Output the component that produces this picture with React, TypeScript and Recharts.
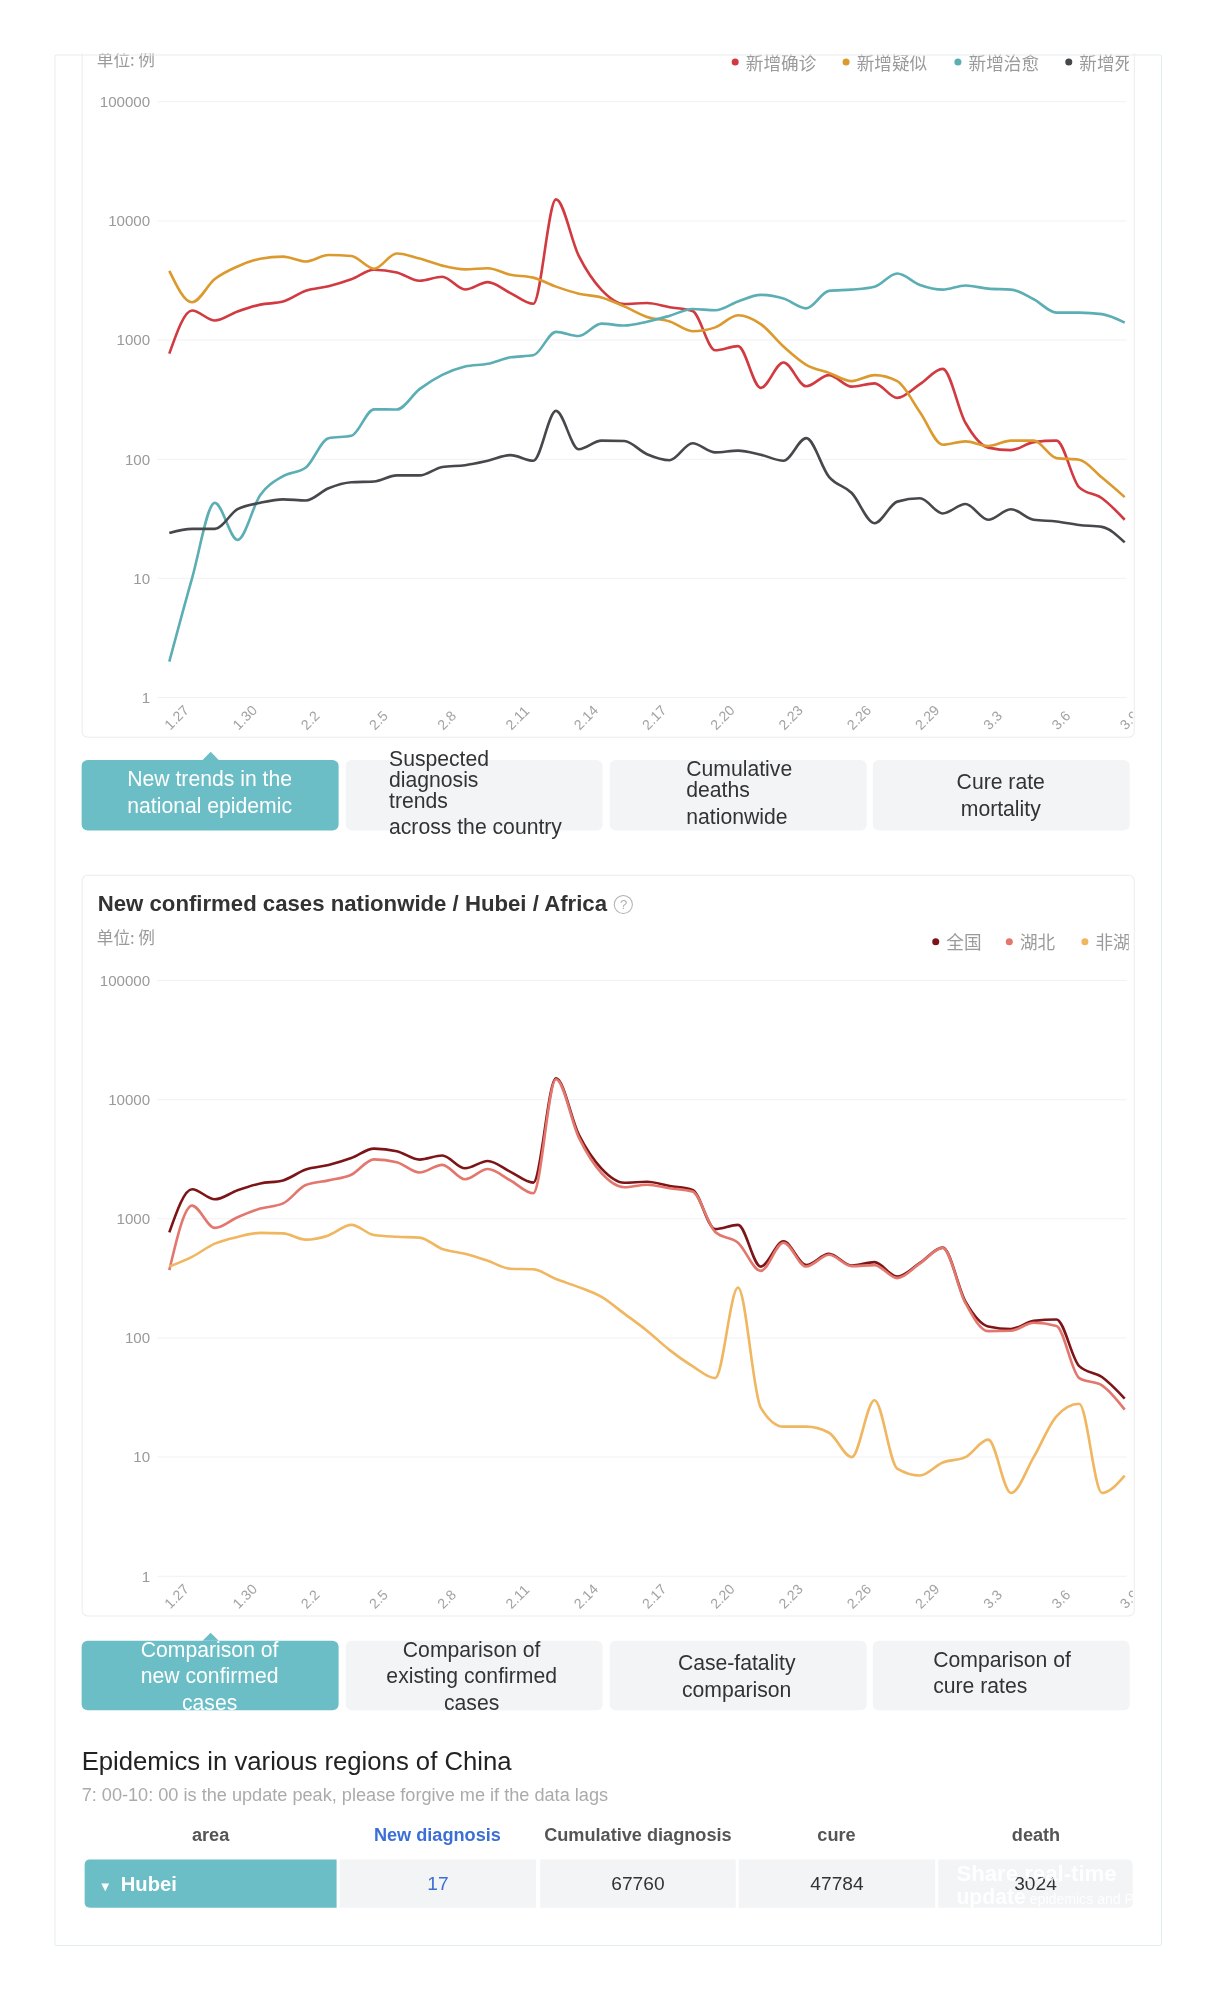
import React from 'react';
import { LineChart, Line, XAxis, YAxis, CartesianGrid } from 'recharts';

// categories: report dates
const dates = [
  '1.27', '1.28', '1.29', '1.30', '1.31',
  '2.1', '2.2', '2.3', '2.4', '2.5', '2.6', '2.7', '2.8', '2.9', '2.10',
  '2.11', '2.12', '2.13', '2.14', '2.15', '2.16', '2.17', '2.18', '2.19', '2.20',
  '2.21', '2.22', '2.23', '2.24', '2.25', '2.26', '2.27', '2.28', '2.29',
  '3.1', '3.2', '3.3', '3.4', '3.5', '3.6', '3.7', '3.8', '3.9',
];

// chart 1: national trends (cases per day)
const newConfirmed = [
  769, 1771, 1459, 1737, 1982, 2102, 2590, 2829, 3235, 3887, 3694, 3143, 3399, 2656, 3062,
  2478, 2015, 15152, 5090, 2641, 2009, 2048, 1886, 1749, 820, 889, 397, 648, 409, 508,
  406, 433, 327, 427, 573, 202, 125, 119, 139, 143, 58, 47, 31,
];
const newSuspected = [
  3806, 2077, 3248, 4148, 4812, 5019, 4562, 5173, 5072, 3971, 5328, 4833, 4214, 3916, 4008,
  3536, 3342, 2807, 2450, 2277, 1918, 1563, 1432, 1185, 1277, 1614, 1361, 882, 620, 530,
  452, 508, 452, 248, 132, 141, 129, 143, 143, 102, 99, 70, 48,
];
const newCured = [
  2, 10, 43, 21, 50, 72, 85, 150, 157, 262, 261, 387, 510, 600, 632,
  716, 744, 1171, 1081, 1373, 1323, 1425, 1600, 1824, 1779, 2109, 2393, 2231, 1846, 2587,
  2650, 2800, 3622, 2900, 2650, 2868, 2700, 2652, 2200, 1700, 1700, 1650, 1400,
];
const newDeaths = [
  24, 26, 26, 38, 43, 46, 45, 57, 64, 65, 73, 73, 86, 89, 97,
  108, 97, 254, 121, 143, 142, 110, 98, 136, 114, 118, 109, 97, 150, 71,
  52, 29, 44, 47, 35, 42, 31, 38, 31, 30, 28, 27, 20,
];

// chart 2: national / Hubei / outside Hubei new confirmed
const hubeiConfirmed = [
  371, 1291, 840, 1032, 1220, 1347, 1921, 2103, 2345, 3156, 2987, 2447, 2841, 2147, 2618,
  2097, 1638, 14840, 4823, 2420, 1843, 1933, 1807, 1693, 775, 631, 366, 630, 398, 499,
  401, 409, 318, 423, 570, 196, 114, 115, 134, 126, 46, 40, 25,
];
const nonHubeiConfirmed = [
  398, 480, 619, 705, 762, 755, 669, 726, 890, 731, 707, 696, 558, 509, 444,
  381, 377, 312, 267, 221, 160, 115, 79, 58, 46, 265, 26, 18, 18, 16,
  10, 30, 8, 7, 9, 10, 14, 5, 10, 22, 28, 5, 7,
];

const yTicks = [1, 10, 100, 1000, 10000, 100000];

const trendSeries = [
  { key: 'confirmed', name: '新增确诊', color: '#d13a40' },
  { key: 'suspected', name: '新增疑似', color: '#dc9a2e' },
  { key: 'cured', name: '新增治愈', color: '#5aaeb4' },
  { key: 'deaths', name: '新增死亡', color: '#47484c' },
];
const compareSeries = [
  { key: 'national', name: '全国', color: '#7d1518' },
  { key: 'hubei', name: '湖北', color: '#e3766d' },
  { key: 'nonHubei', name: '非湖北', color: '#f0b660' },
];

const trendData = dates.map((date, i) => ({
  date,
  confirmed: newConfirmed[i],
  suspected: newSuspected[i],
  cured: newCured[i],
  deaths: newDeaths[i],
}));
const compareData = dates.map((date, i) => ({
  date,
  national: newConfirmed[i],
  hubei: hubeiConfirmed[i],
  nonHubei: nonHubeiConfirmed[i],
}));

const SANS = '"Liberation Sans", Arial, "Noto Sans CJK SC", sans-serif';
const CJK = '"Noto Sans CJK SC", "Liberation Sans", sans-serif';
const TEAL = '#6bbec5';

function DateTick(props: any) {
  const { x, y, payload } = props;
  const tx = x + 1;
  const ty = y + 33;
  return (
    <text x={tx} y={ty} transform={`rotate(-45 ${tx} ${ty})`} textAnchor="start" fill="#a3a3a3" fontSize={14} fontFamily={SANS}>
      {payload.value}
    </text>
  );
}

function LogChart({ data, series, top }: any) {
  return (
    <div style={{ position: 'absolute', left: 81, top, width: 1043, height: 651, overflow: 'hidden' }}>
      <LineChart width={1045} height={680} data={data} margin={{ top: 21, right: 8, left: 0, bottom: 0 }}>
        <CartesianGrid vertical={false} stroke="#f1f1f1" />
        <XAxis
          dataKey="date"
          interval={2}
          axisLine={false}
          tickLine={false}
          tickSize={0}
          tickMargin={0}
          height={68}
          padding={{ left: 12, right: 2 }}
          tick={<DateTick />}
        />
        <YAxis
          scale="log"
          type="number"
          domain={[1, 100000]}
          ticks={yTicks}
          allowDataOverflow
          axisLine={false}
          tickLine={false}
          tickSize={0}
          tickMargin={7}
          width={75}
          tick={{ fill: '#9a9a9a', fontSize: 15, fontFamily: SANS }}
        />
        {series.map((s: any) => (
          <Line
            key={s.key}
            type="monotone"
            dataKey={s.key}
            name={s.name}
            stroke={s.color}
            strokeWidth={2.6}
            dot={false}
            activeDot={false}
            isAnimationActive={false}
          />
        ))}
      </LineChart>
    </div>
  );
}

function LegendRow({ series, xs, y }: any) {
  return (
    <div style={{ position: 'absolute', left: 600, top: y - 13, width: 520, height: 26, overflow: 'hidden' }}>
      {series.map((s: any, i: number) => (
        <div key={s.key} style={{ position: 'absolute', left: xs[i] - 600 - 4, top: 0, height: 26, display: 'flex', alignItems: 'center', whiteSpace: 'nowrap' }}>
          <span style={{ width: 7, height: 7, borderRadius: 4, background: s.color, display: 'inline-block', marginRight: 7 }} />
          <span style={{ fontFamily: CJK, fontSize: 17.5, color: '#9a9a9a' }}>{s.name}</span>
        </div>
      ))}
    </div>
  );
}

function TabText({ lines, color, size = 21 }: any) {
  return (
    <>
      {lines.map((l: any, i: number) => (
        <div
          key={i}
          style={{
            position: 'absolute',
            top: l.y - 13,
            height: 26,
            lineHeight: '26px',
            left: l.align === 'left' ? l.x : l.x - 150,
            width: 300,
            textAlign: l.align === 'left' ? 'left' : 'center',
            fontFamily: SANS,
            fontSize: size,
            color,
            whiteSpace: 'nowrap',
          }}
        >
          {l.t}
        </div>
      ))}
    </>
  );
}

function Tabs({ top, height, texts }: any) {
  const lefts = [81, 343, 605, 866];
  return (
    <>
      {lefts.map((l, i) => (
        <div
          key={i}
          style={{
            position: 'absolute',
            left: l,
            top,
            width: 255,
            height,
            borderRadius: 6,
            background: i === 0 ? TEAL : '#f3f4f6',
          }}
        />
      ))}
      <div
        style={{
          position: 'absolute',
          left: 201,
          top: top - 8,
          width: 0,
          height: 0,
          borderLeft: '8px solid transparent',
          borderRight: '8px solid transparent',
          borderBottom: `8px solid ${TEAL}`,
        }}
      />
      {texts.map((t: any, i: number) => (
        <TabText key={i} lines={t} color={i === 0 ? '#ffffff' : '#333333'} />
      ))}
    </>
  );
}

const tabs1 = [
  [
    { t: 'New trends in the', x: 208, y: 773 },
    { t: 'national epidemic', x: 208, y: 800 },
  ],
  [
    { t: 'Suspected', x: 386, y: 753, align: 'left' },
    { t: 'diagnosis', x: 386, y: 774, align: 'left' },
    { t: 'trends', x: 386, y: 795, align: 'left' },
    { t: 'across the country', x: 386, y: 821, align: 'left' },
  ],
  [
    { t: 'Cumulative', x: 681, y: 763, align: 'left' },
    { t: 'deaths', x: 681, y: 784, align: 'left' },
    { t: 'nationwide', x: 681, y: 811, align: 'left' },
  ],
  [
    { t: 'Cure rate', x: 993, y: 776 },
    { t: 'mortality', x: 993, y: 803 },
  ],
];
const tabs2 = [
  [
    { t: 'Comparison of', x: 208, y: 1637 },
    { t: 'new confirmed', x: 208, y: 1663 },
    { t: 'cases', x: 208, y: 1690 },
  ],
  [
    { t: 'Comparison of', x: 468, y: 1637 },
    { t: 'existing confirmed', x: 468, y: 1663 },
    { t: 'cases', x: 468, y: 1690 },
  ],
  [
    { t: 'Case-fatality', x: 731, y: 1650 },
    { t: 'comparison', x: 731, y: 1677 },
  ],
  [
    { t: 'Comparison of', x: 926, y: 1647, align: 'left' },
    { t: 'cure rates', x: 926, y: 1673, align: 'left' },
  ],
];

const tableHeads = [
  { t: 'area', x: 209, color: '#555' },
  { t: 'New diagnosis', x: 434, color: '#3b6fd6' },
  { t: 'Cumulative diagnosis', x: 633, color: '#555' },
  { t: 'cure', x: 830, color: '#555' },
  { t: 'death', x: 1028, color: '#555' },
];
const rowCells = [
  { l: 337, w: 195, t: '17', color: '#3b6fd6' },
  { l: 536, w: 194, t: '67760', color: '#333' },
  { l: 733, w: 195, t: '47784', color: '#333' },
  { l: 931, w: 193, t: '3024', color: '#333' },
];

export default function App() {
  return (
    <div style={{ position: 'absolute', left: 0, top: 0, width: 1215, height: 2000, background: '#fff', overflow: 'hidden' }}>
      <div style={{ position: 'absolute', left: 0, top: 0, width: 1215, height: 2000, fontFamily: SANS, transform: 'scale(1.0078)', transformOrigin: '0 0' }}>
        {/* card 1 (scrolled, top hidden) */}
        <div style={{ position: 'absolute', left: 81, top: 20, width: 1043, height: 710, border: '1px solid #ececec', borderRadius: 6 }} />
        <div style={{ position: 'absolute', left: 96, top: 49, fontFamily: CJK, fontSize: 16.5, color: '#9a9a9a', lineHeight: '18px' }}>单位: 例</div>
        <LegendRow series={trendSeries} xs={[730, 840, 951, 1061]} y={61} />
        <LogChart data={trendData} series={trendSeries} top={80} />
        <div style={{ position: 'absolute', left: 0, top: 0, width: 1215, height: 53, background: '#fff' }} />

        {/* outer container */}
        <div style={{ position: 'absolute', left: 54, top: 54, width: 1097, height: 1875, border: '1px solid #e5eeee', borderRadius: 2 }} />

        <Tabs top={754} height={70} texts={tabs1} />

        {/* card 2 */}
        <div style={{ position: 'absolute', left: 81, top: 868, width: 1043, height: 734, border: '1px solid #ececec', borderRadius: 6 }} />
        <div style={{ position: 'absolute', left: 97, top: 883, height: 28, display: 'flex', alignItems: 'center', whiteSpace: 'nowrap' }}>
          <span style={{ fontSize: 22, fontWeight: 'bold', color: '#333' }}>New confirmed cases nationwide / Hubei / Africa</span>
          <span style={{ marginLeft: 7, width: 17, height: 17, borderRadius: 10, border: '1px solid #b0b0b0', color: '#b0b0b0', fontSize: 13, lineHeight: '17px', textAlign: 'center', display: 'inline-block' }}>?</span>
        </div>
        <div style={{ position: 'absolute', left: 96, top: 921, fontFamily: CJK, fontSize: 16.5, color: '#9a9a9a', lineHeight: '18px' }}>单位: 例</div>
        <LegendRow series={compareSeries} xs={[929, 1002, 1077]} y={934} />
        <LogChart data={compareData} series={compareSeries} top={952} />

        <Tabs top={1628} height={69} texts={tabs2} />

        {/* regions table */}
        <div style={{ position: 'absolute', left: 81, top: 1732, fontSize: 25.5, color: '#222', lineHeight: '30px', whiteSpace: 'nowrap' }}>
          Epidemics in various regions of China
        </div>
        <div style={{ position: 'absolute', left: 81, top: 1770, fontSize: 18, color: '#ababab', lineHeight: '22px', whiteSpace: 'nowrap' }}>
          7: 00-10: 00 is the update peak, please forgive me if the data lags
        </div>
        {tableHeads.map((h) => (
          <div key={h.t} style={{ position: 'absolute', left: h.x - 150, width: 300, top: 1810, textAlign: 'center', fontSize: 18, fontWeight: 'bold', color: h.color, lineHeight: '22px' }}>
            {h.t}
          </div>
        ))}
        <div style={{ position: 'absolute', left: 84, top: 1845, width: 250, height: 48, background: TEAL, borderRadius: '5px 0 0 5px' }} />
        <div style={{ position: 'absolute', left: 98, top: 1845, height: 48, lineHeight: '48px', color: '#fff', fontSize: 20, fontWeight: 'bold', whiteSpace: 'nowrap' }}>
          <span style={{ fontSize: 13, marginRight: 9 }}>▼</span>Hubei
        </div>
        {rowCells.map((c, i) => (
          <div
            key={i}
            style={{
              position: 'absolute',
              left: c.l,
              top: 1845,
              width: c.w,
              height: 48,
              background: '#f3f4f6',
              borderRadius: i === 3 ? '0 5px 5px 0' : 0,
              textAlign: 'center',
              lineHeight: '48px',
              fontSize: 19,
              color: c.color,
              overflow: 'hidden',
            }}
          >
            {c.t}
            {i === 3 && (
              <div style={{ position: 'absolute', left: 18, top: 2, lineHeight: '23px', textAlign: 'left', color: 'rgba(255,255,255,0.92)', whiteSpace: 'nowrap' }}>
                <div style={{ fontSize: 22, fontWeight: 'bold' }}>Share real-time</div>
                <div>
                  <span style={{ fontSize: 21, fontWeight: 'bold' }}>update</span>
                  <span style={{ fontSize: 14 }}> epidemics and Pr</span>
                </div>
              </div>
            )}
          </div>
        ))}
      </div>
    </div>
  );
}
